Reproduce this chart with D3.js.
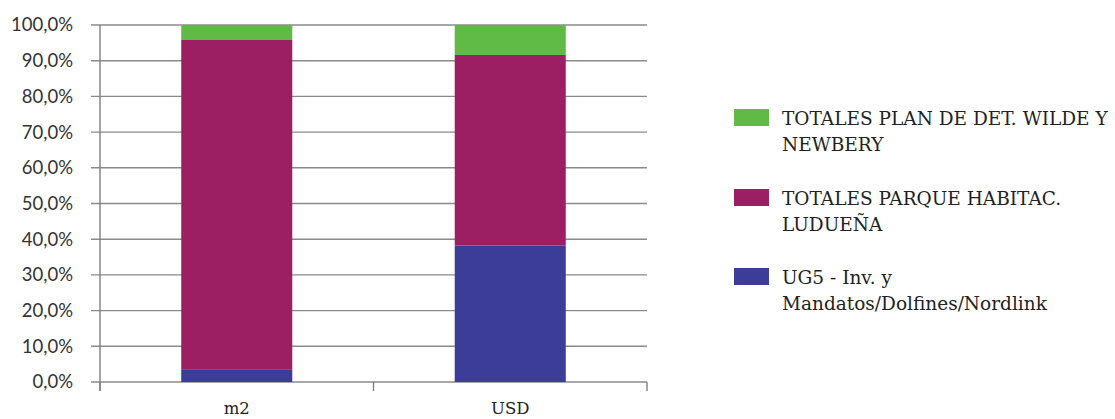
<!DOCTYPE html>
<html><head><meta charset="utf-8">
<script src="https://cdn.jsdelivr.net/npm/d3@7"></script>
<style>body{margin:0;background:#fff}</style>
</head><body>
<svg id="c" width="1115" height="419"></svg>
<script>
const categories = ["m2", "USD"];
const seriesNames = ["UG5 - Inv. y Mandatos/Dolfines/Nordlink", "TOTALES PARQUE HABITAC. LUDUEÑA", "TOTALES PLAN DE DET. WILDE Y NEWBERY"];
const ug5 = [3.4, 38.2];
const ludena = [92.4, 53.4];
const wilde = [4.2, 8.4];
const colors = ["#3b3d98", "#9c1f64", "#5fba46"];
const yTicks = [0, 10, 20, 30, 40, 50, 60, 70, 80, 90, 100];
const legendLines = [
  ["TOTALES PLAN DE DET. WILDE Y", "NEWBERY"],
  ["TOTALES PARQUE HABITAC.", "LUDUEÑA"],
  ["UG5 - Inv. y", "Mandatos/Dolfines/Nordlink"]
];
const legendColorIdx = [2, 1, 0];

(function () {
const svg = d3.select("#c");
const pL = 100, pR = 647, pT = 25, pB = 382;
const x = d3.scaleBand().domain(categories).range([pL, pR]).paddingInner(0.594).paddingOuter(0.297);
const xb = d3.scaleBand().domain(categories).range([pL, pR]);
const y = d3.scaleLinear().domain([0, 100]).range([pB, pT]);

svg.append("g").selectAll("line").data(yTicks).join("line")
  .attr("x1", 91).attr("x2", pR).attr("y1", d => y(d)).attr("y2", d => y(d))
  .attr("stroke", "#8a8a8a").attr("stroke-width", 1.4);

const fmt = d => d3.format(".1f")(d).replace(".", ",") + "%";
svg.append("g").selectAll("text").data(yTicks).join("text")
  .attr("x", 73).attr("y", d => y(d)).attr("dy", "0.35em")
  .attr("text-anchor", "end").attr("font-family", "Lato").attr("font-size", 18.5)
  .attr("fill", "#333").text(fmt);

const rows = categories.map((c, i) => ({cat: c, s0: ug5[i], s1: ludena[i], s2: wilde[i]}));
const stack = d3.stack().keys(["s0", "s1", "s2"])(rows);
svg.append("g").selectAll("g").data(stack).join("g").attr("fill", (d, i) => colors[i])
  .selectAll("rect").data(d => d).join("rect")
  .attr("x", d => x(d.data.cat)).attr("width", x.bandwidth())
  .attr("y", d => y(d[1])).attr("height", d => y(d[0]) - y(d[1]));

svg.append("line").attr("x1", pL).attr("x2", pL).attr("y1", pT).attr("y2", 391)
  .attr("stroke", "#7f7f7f").attr("stroke-width", 1.4);
const bounds = [pL, xb("USD"), pR];
svg.append("g").selectAll("line").data(bounds).join("line")
  .attr("x1", d => d).attr("x2", d => d).attr("y1", pB).attr("y2", 391)
  .attr("stroke", "#7f7f7f").attr("stroke-width", 1.4);

svg.append("g").selectAll("text").data(categories).join("text")
  .attr("x", d => x(d) + x.bandwidth() / 2).attr("y", 414)
  .attr("text-anchor", "middle").attr("font-family", "DejaVu Serif").attr("font-size", 16.5)
  .attr("fill", "#222").text(d => d);

const lg = svg.append("g");
const itemY = [109, 189, 268];
legendLines.forEach((lines, i) => {
  lg.append("rect").attr("x", 734).attr("y", itemY[i]).attr("width", 35).attr("height", 17)
    .attr("fill", colors[legendColorIdx[i]]);
  lines.forEach((t, j) => {
    lg.append("text").attr("x", 782).attr("y", itemY[i] + 16 + j * 26)
      .attr("font-family", "DejaVu Serif").attr("font-size", 18.5)
      .attr("fill", "#222").text(t);
  });
});
})();
</script>
</body></html>
